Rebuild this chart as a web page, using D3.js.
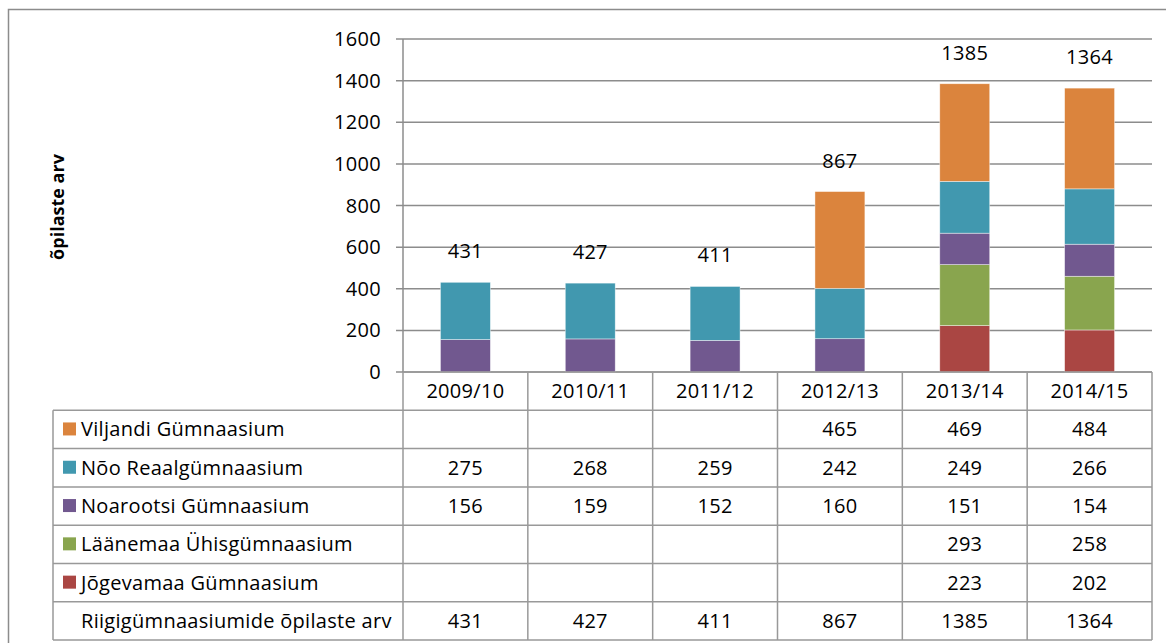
<!DOCTYPE html>
<meta charset="utf-8">
<script src="https://d3js.org/d3.v7.min.js"></script>
<style>
  body { margin: 0; background: #fff; }
  text { font-family: "Open Sans", sans-serif; fill: #000; }
</style>
<div id="chart"></div>
<script>
// chart data
var years = ["2009/10", "2010/11", "2011/12", "2012/13", "2013/14", "2014/15"];
var schools = ["Viljandi Gümnaasium", "Nõo Reaalgümnaasium", "Noarootsi Gümnaasium", "Läänemaa Ühisgümnaasium", "Jõgevamaa Gümnaasium"];
var viljandi = [null, null, null, 465, 469, 484];
var noo = [275, 268, 259, 242, 249, 266];
var noarootsi = [156, 159, 152, 160, 151, 154];
var laanemaa = [null, null, null, null, 293, 258];
var jogevamaa = [null, null, null, null, 223, 202];
var totalLabel = "Riigigümnaasiumide õpilaste arv";
var totals = [431, 427, 411, 867, 1385, 1364];
var yTicks = [0, 200, 400, 600, 800, 1000, 1200, 1400, 1600];

var seriesValues = [viljandi, noo, noarootsi, laanemaa, jogevamaa];
var colors = ["#DB843D", "#4198AF", "#71588F", "#89A54E", "#AA4643"];

// table rows built from the arrays
var rows = years.map(function(y, i) {
  var r = {year: y};
  schools.forEach(function(s, j) { r[s] = seriesValues[j][i] || 0; });
  return r;
});

var W = 1166, H = 643;
var plotLeft = 403, plotRight = 1152, plotTop = 39, plotBottom = 372;
var rowH = 38.3, tableLeft = 53;
var fontSize = "20px", spacing = "0.3px";

var svg = d3.select("#chart").append("svg")
  .attr("width", W)
  .attr("height", H);

// outer chart border
svg.append("rect")
  .attr("x", 8.5).attr("y", 9.5)
  .attr("width", 1170).attr("height", 650)
  .attr("fill", "none")
  .attr("stroke", "#8c8c8c")
  .attr("stroke-width", 1.5);

var x = d3.scaleBand().domain(years).range([plotLeft, plotRight]).padding(0);
var y = d3.scaleLinear().domain([0, 1600]).range([plotBottom, plotTop]);

// gridlines
svg.append("g")
  .selectAll("line")
  .data(yTicks)
  .enter().append("line")
    .attr("x1", plotLeft - 7).attr("x2", plotRight)
    .attr("y1", function(d) { return y(d); })
    .attr("y2", function(d) { return y(d); })
    .attr("stroke", "#8c8c8c")
    .attr("stroke-width", 1.5);

// y axis line
svg.append("line")
  .attr("x1", plotLeft).attr("x2", plotLeft)
  .attr("y1", plotTop).attr("y2", plotBottom)
  .attr("stroke", "#8c8c8c")
  .attr("stroke-width", 1.5);

// tick labels
svg.append("g")
  .selectAll("text")
  .data(yTicks)
  .enter().append("text")
    .attr("x", 381)
    .attr("y", function(d) { return y(d); })
    .attr("dy", "0.35em")
    .attr("text-anchor", "end")
    .style("font-size", fontSize)
    .style("letter-spacing", spacing)
    .text(function(d) { return d; });

// axis title
svg.append("text")
  .attr("transform", "translate(64,207) rotate(-90)")
  .attr("text-anchor", "middle")
  .style("font-size", "18px")
  .style("font-weight", "bold")
  .text("õpilaste arv");

// stacked bars, bottom series first
var stack = d3.stack().keys(schools.slice().reverse());
var stacked = stack(rows);
var barW = x.bandwidth() * 0.4;

svg.append("g")
  .selectAll("g")
  .data(stacked)
  .enter().append("g")
    .attr("fill", function(d) { return colors[schools.indexOf(d.key)]; })
  .selectAll("rect")
  .data(function(d) { return d.filter(function(p) { return p[1] > p[0]; }); })
  .enter().append("rect")
    .attr("x", function(d) { return x(d.data.year) + (x.bandwidth() - barW) / 2; })
    .attr("y", function(d) { return y(d[1]); })
    .attr("width", barW)
    .attr("height", function(d) { return y(d[0]) - y(d[1]); })
    .attr("stroke", "rgba(255,255,255,0.6)")
    .attr("stroke-width", 0.7);

// total labels above bars
svg.append("g")
  .selectAll("text")
  .data(totals)
  .enter().append("text")
    .attr("x", function(d, i) { return x(years[i]) + x.bandwidth() / 2; })
    .attr("y", function(d) { return y(d) - 31; })
    .attr("dy", "0.35em")
    .attr("text-anchor", "middle")
    .style("font-size", fontSize)
    .style("letter-spacing", spacing)
    .text(function(d) { return d; });

// data table
var table = svg.append("g");
var tableRows = schools.map(function(s, j) { return {label: s, color: colors[j], values: seriesValues[j]}; });
tableRows.push({label: totalLabel, color: null, values: totals});
var tableBottom = plotBottom + rowH * (tableRows.length + 1);

// horizontal lines
table.append("line")
  .attr("x1", plotLeft).attr("x2", plotRight)
  .attr("y1", plotBottom).attr("y2", plotBottom)
  .attr("stroke", "#999").attr("stroke-width", 1.5);
table.selectAll("line.h")
  .data(d3.range(tableRows.length + 1))
  .enter().append("line")
    .attr("class", "h")
    .attr("x1", tableLeft).attr("x2", plotRight)
    .attr("y1", function(i) { return plotBottom + rowH * (i + 1); })
    .attr("y2", function(i) { return plotBottom + rowH * (i + 1); })
    .attr("stroke", "#999").attr("stroke-width", 1.5);

// vertical lines
table.selectAll("line.v")
  .data(years.concat(["end"]))
  .enter().append("line")
    .attr("class", "v")
    .attr("x1", function(d) { return d === "end" ? plotRight : x(d); })
    .attr("x2", function(d) { return d === "end" ? plotRight : x(d); })
    .attr("y1", plotBottom).attr("y2", tableBottom)
    .attr("stroke", "#999").attr("stroke-width", 1.5);
table.append("line")
  .attr("x1", tableLeft).attr("x2", tableLeft)
  .attr("y1", plotBottom + rowH).attr("y2", tableBottom)
  .attr("stroke", "#999").attr("stroke-width", 1.5);

// header labels
table.selectAll("text.year")
  .data(years)
  .enter().append("text")
    .attr("class", "year")
    .attr("x", function(d) { return x(d) + x.bandwidth() / 2; })
    .attr("y", plotBottom + rowH / 2)
    .attr("dy", "0.35em")
    .attr("text-anchor", "middle")
    .style("font-size", fontSize)
    .style("letter-spacing", spacing)
    .text(function(d) { return d; });

// table body rows
var tr = table.selectAll("g.row")
  .data(tableRows)
  .enter().append("g")
    .attr("class", "row")
    .attr("transform", function(d, i) { return "translate(0," + (plotBottom + rowH * (i + 1)) + ")"; });

tr.filter(function(d) { return d.color; })
  .append("rect")
    .attr("x", 63).attr("y", rowH / 2 - 7)
    .attr("width", 13).attr("height", 13)
    .attr("fill", function(d) { return d.color; });

tr.append("text")
  .attr("x", 81)
  .attr("y", rowH / 2)
  .attr("dy", "0.35em")
  .style("font-size", fontSize)
  .style("letter-spacing", spacing)
  .text(function(d) { return d.label; });

tr.selectAll("text.val")
  .data(function(d) { return d.values; })
  .enter().append("text")
    .attr("class", "val")
    .attr("x", function(d, i) { return x(years[i]) + x.bandwidth() / 2; })
    .attr("y", rowH / 2)
    .attr("dy", "0.35em")
    .attr("text-anchor", "middle")
    .style("font-size", fontSize)
    .style("letter-spacing", spacing)
    .text(function(d) { return d == null ? "" : d; });
</script>
